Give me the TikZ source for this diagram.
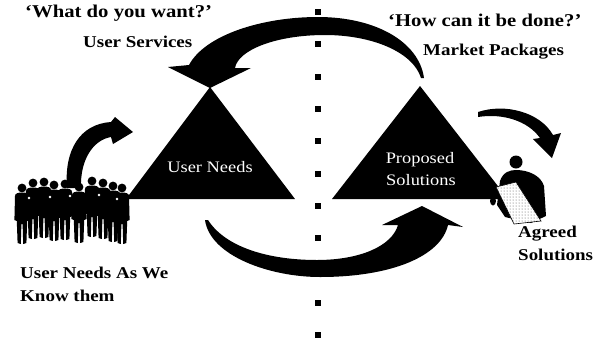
\documentclass[tikz,border=0pt]{standalone}
\usepackage{fontspec}
\setmainfont{Liberation Serif}[FakeStretch=1.15]
\usetikzlibrary{patterns}
\begin{document}
\begin{tikzpicture}[x=1pt,y=-1pt,
  headtext/.style={anchor=base west,inner sep=0pt,font=\fontsize{18}{20}\selectfont\bfseries},
  tagtext/.style={anchor=base west,inner sep=0pt,font=\fontsize{16.5}{19}\selectfont\bfseries},
  intext/.style={anchor=base,inner sep=0pt,text=white,font=\fontsize{16}{18}\selectfont},
  solid/.style={fill=black},
  guy/.pic={
    \fill (0,0) circle (4.4);
    \fill (-7,8) .. controls (-7,5.5) and (-4,4.5) .. (0,4.5)
          .. controls (4,4.5) and (7,5.5) .. (7,8)
          -- (7.6,32) -- (5.2,33) -- (4.4,55) -- (1.2,56) -- (0.6,36)
          -- (-0.6,36) -- (-1.2,56) -- (-4.4,55) -- (-5.2,33) -- (-7.6,32) -- cycle;
  }
]
\useasboundingbox (0,0) rectangle (603,341);

% dividing line of square dots
\foreach \k in {0,...,10}
  \fill (315,{9+32.3*\k}) rectangle ++(6,6);

% the two triangles
\coordinate (lt) at (210,87);
\coordinate (rt) at (420,86);
\fill (lt) -- (126,199) -- (295,199) -- cycle;
\fill (rt) -- (332,199) -- (508,199) -- cycle;
\node[intext] (needs) at (210,172) {User Needs};
\node[intext] (prop) at (420,163) {Proposed};
\node[intext] (sol) at (421,185) {Solutions};

% upper sweeping arrow, right to left
\fill[solid] (424,78) .. controls (419,42) and (376,17) .. (318,17)
  .. controls (262,17) and (205,35) .. (189,65)
  -- (168,67) -- (210,88) -- (251,68) -- (235,68)
  .. controls (238,50) and (276,35) .. (325,35)
  .. controls (372,35) and (413,52) .. (421,78) -- cycle;

% lower sweeping arrow, left to right
\fill[solid] (205,220) .. controls (210,256) and (270,277) .. (320,277)
  .. controls (392,277) and (441,256) .. (448,225)
  -- (463,227) -- (422,206) -- (382,225) -- (398,225)
  .. controls (392,246) and (360,260) .. (317,260)
  .. controls (270,260) and (226,248) .. (208,220) -- cycle;

% small arrow rising from the crowd
\fill[solid] (67,188) .. controls (64,150) and (80,124) .. (111,122)
  -- (115,117) -- (133,132) -- (113,144) -- (111,137)
  .. controls (93,140) and (80,160) .. (81,188) -- cycle;

% small arrow towards the agreeing person
\fill[solid] (478,112) .. controls (505,103) and (540,112) .. (553,135)
  -- (561,133) -- (552,158) -- (533,139) -- (540,138)
  .. controls (528,121) and (503,113) .. (478,117) -- cycle;

% crowd of users
\foreach \x/\y in {22/188, 33/183, 44/182, 54/185, 65/184, 79/187, 92/181, 103/183, 113/186, 122/188}
  \pic at (\x,\y) {guy};
\foreach \x/\y in {29/198, 50/197, 70/196, 99/195, 117/199}
  \fill[white] (\x,\y) circle (1.3);

% person holding the agreed paper
\fill (516,162) circle (6.5);
\fill (497,205) -- (500,181) .. controls (503,172) and (510,170) .. (516,170)
  .. controls (529,170) and (541,176) .. (544,186) -- (546,216) -- (531,223) -- (505,217) -- cycle;
\fill[white] (496,187) -- (516,182) -- (541,221) -- (514,224) -- cycle;
\fill[pattern=dots,pattern color=black!70] (496,187) -- (516,182) -- (541,221) -- (514,224) -- cycle;
\draw[line width=0.6pt] (496,187) -- (516,182) -- (541,221) -- (514,224) -- cycle;
\fill (493,201) ellipse (3 and 4.5);

% captions
\node[headtext] (want) at (25,17) {‘What do you want?’};
\node[tagtext] (services) at (83,47) {User Services};
\node[headtext] (how) at (388,26) {‘How can it be done?’};
\node[tagtext] (market) at (423,55) {Market Packages};
\node[tagtext] (known1) at (20,278) {User Needs As We};
\node[tagtext] (known2) at (20,301) {Know them};
\node[tagtext] (agreed1) at (518,237) {Agreed};
\node[tagtext] (agreed2) at (518,260) {Solutions};
\end{tikzpicture}
\end{document}
